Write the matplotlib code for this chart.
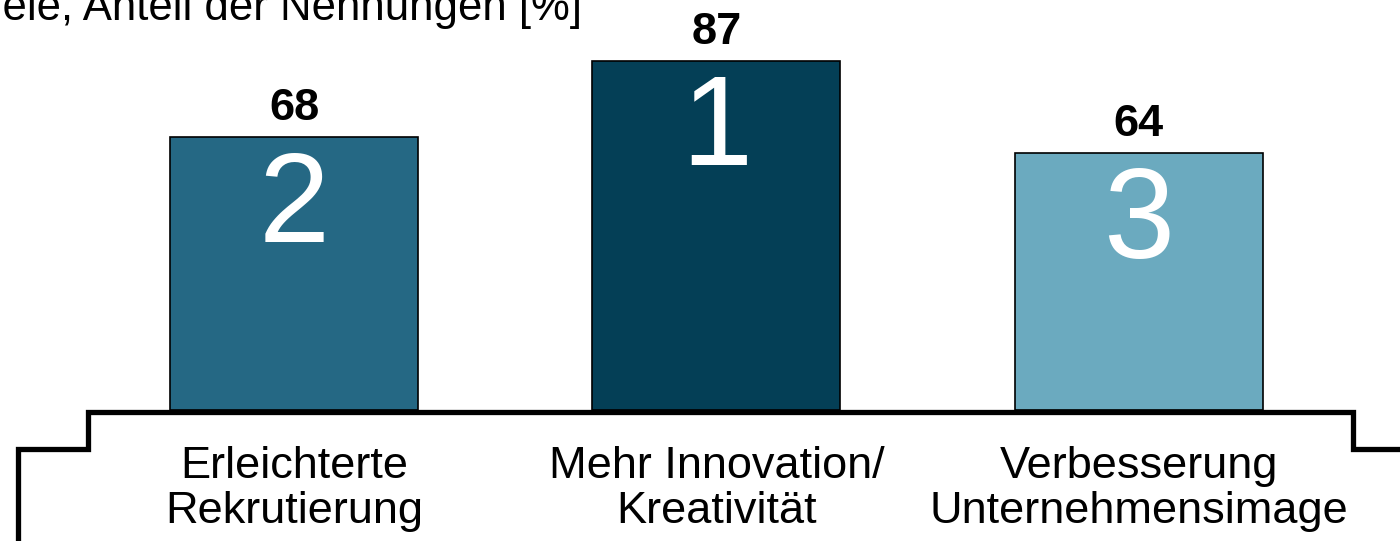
import matplotlib

matplotlib.use("Agg")

import matplotlib.pyplot as plt
from matplotlib.lines import Line2D

# data
categories = ["Erleichterte\nRekrutierung", "Mehr Innovation/\nKreativität",
              "Verbesserung\nUnternehmensimage"]
shares = [68, 87, 64]
ranks = ["2", "1", "3"]
bar_colors = ["#256884", "#043F56", "#6BAABF"]
title = "Ziele, Anteil der Nennungen [%]"

plt.rcParams["font.family"] = ["Liberation Sans", "DejaVu Sans"]

W, H = 1400, 541
fig = plt.figure(figsize=(W / 100, H / 100), dpi=100)
ax = fig.add_axes([0, 0, 1, 1])
ax.set_xlim(-0.696, 2.618)
ax.set_ylim(-32.6, 102.1)
ax.axis("off")

xs = range(len(categories))
ax.bar(xs, shares, width=0.587, color=bar_colors, edgecolor="black", linewidth=1.2,
       zorder=2)

for x, v, r, lab in zip(xs, shares, ranks, categories):
    ax.text(x, v + 4.2, f"{v}", ha="center", va="baseline", fontsize=32.5,
            fontweight="bold", color="black")
    ax.text(x, v - 26.1, r, ha="center", va="baseline", fontsize=92, color="white",
            zorder=3)
    # baseline of the last line
    ax.text(x, -28.1, lab, ha="center", va="baseline", fontsize=32.5, color="black",
            linespacing=1.13)

# stepped podium outline (figure pixels from top-left)
px = [18, 18, 88, 88, 1353, 1353, 1400]
py = [541, 449, 449, 412, 412, 449, 449]
fig.add_artist(Line2D([p / W for p in px], [1 - p / H for p in py], color="black",
                      linewidth=3.8, solid_joinstyle="miter", zorder=4))

# heading, cut off at the left edge as in the reference
fig.text(582 / W, 1 - 20 / H, title, ha="right", va="baseline", fontsize=31.5,
         color="black")

fig.savefig("out.png", dpi=100)
